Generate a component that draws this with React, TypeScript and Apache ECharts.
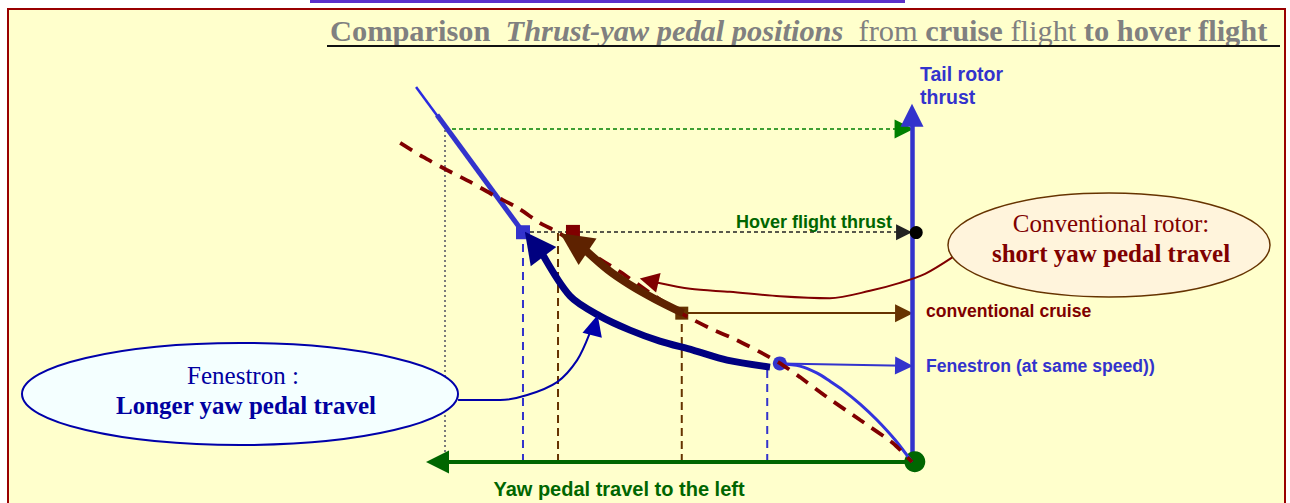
import React, { useEffect, useRef } from 'react';
import * as echarts from 'echarts';

// x: yaw pedal travel to the left (0 at the thrust axis, 100 = full reference travel)
// y: tail-rotor thrust (100 = top reference level)

// Conventional rotor characteristic (dashed curve)
const convPedal = [109.6, 104.7, 99.6, 94.6, 89.7, 84.4, 79.7, 76.0, 69.0, 62.5, 56.1, 49.5, 43.3, 37.5, 32.5, 28.3, 24.0, 18.2, 11.1, 4.1, 0];
const convThrust = [95.8, 91.6, 87.7, 84.1, 80.2, 76.3, 71.8, 69.1, 62.8, 57.1, 50.8, 44.7, 40.2, 36.6, 33.0, 29.7, 25.5, 19.5, 12.6, 5.7, 0];
// Fenestron characteristic
const fenLowPedal = [0, 3.6, 7.5, 11.1, 14.8, 17.6, 20.3, 24.0, 28.3];
const fenLowThrust = [0, 6.6, 12.6, 17.4, 21.6, 24.3, 26.7, 28.8, 29.4];
const fenHighPedal = [106.2, 83.3];
const fenHighThrust = [112.6, 69.0];
const fenBandPedal = [101.7, 83.3];
const fenBandThrust = [104.2, 69.0];
// operating points
const topThrust = 100;
const fullPedal = 100;
const hoverThrust = 69.0;
const fenHoverPedal = 83.3;
const convHoverPoint = [72.6, 69.4];
const convHoverDropPedal = 75.8;
const convCruise = [49.3, 44.7];
const fenCruise = [28.3, 29.6];
const fenLevelThrust = 28.9;
const fenCruiseDrop = [31.0, 28.5];
const levelEndPedal = 1.7;
const hoverDot = [-0.9, 68.9];
const origin = [0, 0];
const originDot = [-0.6, 0.1];
const thrustAxisEnd = 104.1;
const pedalAxisEnd = 101.6;
// transition arrows: shaft points and arrow-head centres
const fenArrowPedal = [30.4, 39.6, 46.9, 54.0, 60.4, 66.8, 73.2, 79.4];
const fenArrowThrust = [28.5, 30.6, 33.6, 36.3, 39.6, 43.8, 49.8, 63.1];
const fenArrowHead = [80.9, 65.4];
const convArrowPedal = [49.0, 55.0, 60.4, 65.1, 70.0];
const convArrowThrust = [44.7, 48.9, 53.2, 57.7, 63.7];
const convArrowHead = [72.4, 65.9];
const convNotePedal = [-8.8, -2.8, 2.6, 9.0, 17.6, 28.3, 39.0, 47.5, 54.4];
const convNoteThrust = [61.6, 56.5, 53.8, 51.4, 49.2, 49.8, 51.1, 52.0, 53.8];
const convNoteHead = [56.3, 54.5];
const fenNotePedal = [97.2, 88.2, 82.4, 76.0, 71.7, 69.0];
const fenNoteThrust = [18.6, 18.6, 20.1, 24.0, 30.6, 38.7];
const fenNoteHead = [67.9, 41.1];

const SERIF = 'Liberation Serif';
const SANS = 'Liberation Sans';

const pts = (p: number[], t: number[]) => p.map((v, i) => [v, t[i]]);

function line(data: number[][], color: string, width: number, type: any, z: number, smooth: any = false) {
  return {
    type: 'line', data, smooth, symbol: 'none', showSymbol: false, clip: false, silent: true, z,
    lineStyle: { color, width, type },
  };
}
function arrow(from: number[], to: number[], color: string, width: number, type: any, size: number, z: number) {
  return {
    type: 'lines', coordinateSystem: 'cartesian2d', clip: false, silent: true, z,
    symbol: ['none', 'triangle'], symbolSize: size,
    lineStyle: { color, width, type, opacity: 1, curveness: 0 },
    data: [{ coords: [from, to] }],
  };
}
function marker(pos: number[], symbol: string, size: any, color: string, z: number, rotate = 0) {
  return {
    type: 'scatter', data: [pos], symbol, symbolSize: size, symbolRotate: rotate, clip: false, silent: true, z,
    itemStyle: { color, opacity: 1 },
  };
}
function txt(x: number, y: number, text: string, size: number, family: string, color: string, weight = 'normal', align = 'left', extra: any = {}) {
  return {
    type: 'text', z: 20,
    style: { x, y, text, fill: color, fontSize: size, fontFamily: family, fontWeight: weight, align, verticalAlign: 'middle', ...extra },
  };
}

const titleRich = {
  b: { fontFamily: SERIF, fontSize: 30.4, fontWeight: 'bold', fill: '#808080' },
  bi: { fontFamily: SERIF, fontSize: 30.4, fontWeight: 'bold', fontStyle: 'italic', fill: '#808080' },
  n: { fontFamily: SERIF, fontSize: 30.4, fontWeight: 'normal', fill: '#808080' },
};

function buildOption() {
  const series: any[] = [
    // reference lines
    line([[fullPedal, 0], [fullPedal, topThrust]], '#7a7a7a', 2, [2, 3], 2),
    arrow([fullPedal, topThrust], [levelEndPedal, topThrust], '#008000', 1.5, [4, 3], 19, 2),
    arrow([fenHoverPedal, hoverThrust], [levelEndPedal, hoverThrust], '#222222', 1.5, [4, 3], 16, 2),
    arrow(convCruise, [levelEndPedal, convCruise[1]], '#663300', 2, 'solid', 18, 2),
    arrow(fenCruise, [levelEndPedal, fenLevelThrust], '#3333cc', 2, 'solid', 18, 2),
    line([[fenHoverPedal, 0], [fenHoverPedal, hoverThrust]], '#3333cc', 2, [8, 6], 2),
    line([[convHoverDropPedal, 0], [convHoverDropPedal, hoverThrust]], '#663300', 2, [8, 5], 2),
    line([[convCruise[0], 0], [convCruise[0], convCruise[1]]], '#663300', 2, [8, 5], 2),
    line([[fenCruiseDrop[0], 0], fenCruiseDrop], '#3333cc', 2, [8, 6], 2),
    // axes
    arrow(origin, [pedalAxisEnd, 0], '#006600', 4, 'solid', 23, 3),
    arrow(origin, [0, thrustAxisEnd], '#3333cc', 4.5, 'solid', 23, 3),
    marker(originDot, 'circle', 21, '#006600', 3),
    // points
    marker([fenHoverPedal, hoverThrust], 'rect', 14, '#3333cc', 4),
    marker(convHoverPoint, 'rect', [14, 12], '#800000', 4),
    marker(convCruise, 'rect', 13, '#663300', 4),
    marker(fenCruise, 'circle', 14, '#3333cc', 4),
    // Fenestron characteristic
    line(pts(fenLowPedal, fenLowThrust), '#3333dd', 3, 'solid', 5, 0.3),
    line(pts(fenHighPedal, fenHighThrust), '#2a2ae0', 2.5, 'solid', 5),
    line(pts(fenBandPedal, fenBandThrust), '#3333cc', 5, 'solid', 5),
    // conventional characteristic
    line(pts(convPedal, convThrust), '#800000', 3.8, [14, 9], 6, 0.2),
    // transition arrows
    line(pts(fenArrowPedal, fenArrowThrust), '#000080', 7, 'solid', 7, 0.3),
    marker(fenArrowHead, 'triangle', [32, 31], '#000080', 7, 37),
    line(pts(convArrowPedal, convArrowThrust), '#5e2200', 8, 'solid', 7, 0.3),
    marker(convArrowHead, 'triangle', [32, 33], '#5e2200', 7, 56),
    line(pts(convNotePedal, convNoteThrust), '#800000', 2, 'solid', 7, 0.3),
    marker(convNoteHead, 'triangle', [20, 19], '#800000', 7, 77),
    line(pts(fenNotePedal, fenNoteThrust), '#0000aa', 2, 'solid', 7, 0.3),
    marker(fenNoteHead, 'triangle', [20, 21], '#0000aa', 7, -15),
    marker(hoverDot, 'circle', 13, '#000000', 8),
  ];

  const graphic: any[] = [
    { type: 'rect', z: 0, shape: { x: 8, y: 9, width: 1277, height: 520 }, style: { fill: '#ffffcc', stroke: '#990000', lineWidth: 2 } },
    { type: 'rect', z: 0, shape: { x: 310, y: 0, width: 595, height: 3 }, style: { fill: '#5b2fc9' } },
    {
      type: 'text', z: 20,
      style: {
        x: 330, y: 31, verticalAlign: 'middle', align: 'left',
        text: '{b|Comparison}{n|  }{bi|Thrust-yaw pedal positions}{n|  from }{b|cruise}{n| flight }{b|to hover flight}',
        rich: titleRich,
      },
    },
    { type: 'line', z: 20, shape: { x1: 327, y1: 46, x2: 1280, y2: 46 }, style: { stroke: '#111111', lineWidth: 2 } },
    { type: 'ellipse', z: 15, shape: { cx: 1109, cy: 245, rx: 161, ry: 52 }, style: { fill: '#fff4dc', stroke: '#663300', lineWidth: 1.5 } },
    txt(1111, 223, 'Conventional rotor:', 25, SERIF, '#800000', 'normal', 'center'),
    txt(1111, 253, 'short yaw pedal travel', 25, SERIF, '#800000', 'bold', 'center'),
    { type: 'ellipse', z: 15, shape: { cx: 240, cy: 394, rx: 218, ry: 51 }, style: { fill: '#f4ffff', stroke: '#0000aa', lineWidth: 2 } },
    txt(243, 375, 'Fenestron :', 25, SERIF, '#0000a0', 'normal', 'center'),
    txt(246, 405, 'Longer yaw pedal travel', 25, SERIF, '#0000a0', 'bold', 'center'),
    {
      type: 'text', z: 20,
      style: { x: 920, y: 62, text: 'Tail rotor\nthrust', fill: '#3333cc', fontSize: 19.5, fontFamily: SANS, fontWeight: 'bold', align: 'left', verticalAlign: 'top', lineHeight: 23 },
    },
    txt(892, 222, 'Hover flight thrust', 18, SANS, '#006600', 'bold', 'right'),
    txt(926, 310.5, 'conventional cruise', 17.6, SANS, '#800000', 'bold', 'left'),
    txt(926, 365.5, 'Fenestron (at same speed))', 17.6, SANS, '#3333cc', 'bold', 'left'),
    txt(619, 489, 'Yaw pedal travel to the left', 20, SANS, '#006600', 'bold', 'center'),
  ];

  return {
    animation: false,
    backgroundColor: 'transparent',
    grid: { left: 351.6, right: 284.6, top: 62.4, bottom: 7.7, containLabel: false, outerBoundsMode: 'none' },
    xAxis: { type: 'value', min: -20, max: 120, inverse: true, show: false },
    yAxis: { type: 'value', min: -10, max: 120, show: false },
    tooltip: { show: false },
    series,
    graphic,
  };
}

export default function App() {
  const ref = useRef<HTMLDivElement>(null);
  useEffect(() => {
    document.body.style.margin = '0';
    const chart = echarts.init(ref.current as HTMLDivElement, null, { renderer: 'svg' });
    chart.setOption(buildOption() as any);
    return () => chart.dispose();
  }, []);
  return <div ref={ref} style={{ width: 1290, height: 503 }} />;
}
